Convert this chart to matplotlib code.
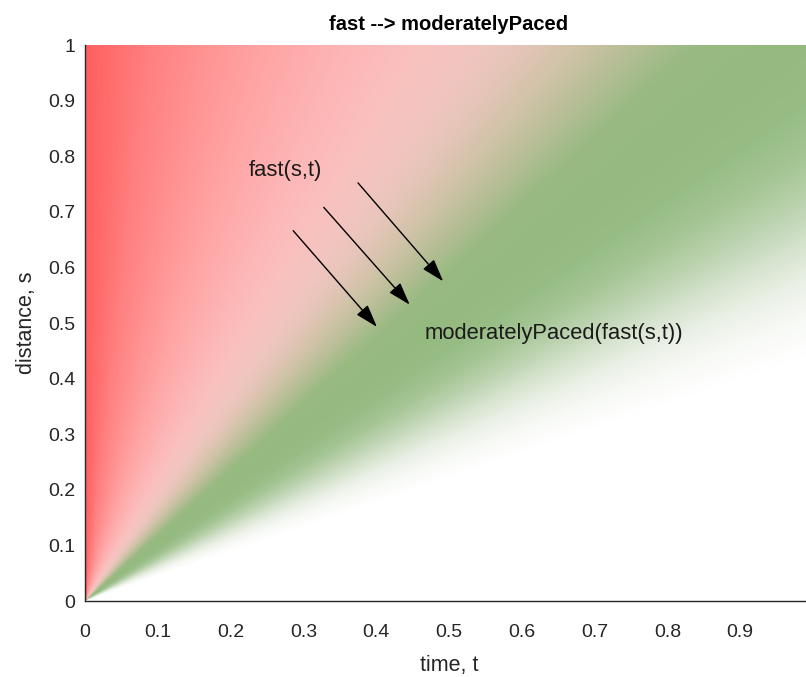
import numpy as np
import matplotlib
matplotlib.use("Agg")
import matplotlib.pyplot as plt
from matplotlib.colors import LinearSegmentedColormap

# Colour, as a function of the ray angle from the origin (degrees)
anchor_angles = [0, 24, 27, 30, 33, 36, 39, 42, 46, 50, 53, 56, 59, 62, 66, 70, 75, 80, 85, 90]
anchor_colors = [
    (255, 255, 255), (255, 255, 255), (248, 250, 246), (235, 241, 231),
    (213, 227, 205), (187, 210, 174), (164, 197, 148), (151, 189, 133),
    (148, 186, 127), (153, 186, 130), (182, 190, 150), (208, 195, 168),
    (229, 197, 184), (242, 197, 192), (250, 192, 190), (253, 182, 182),
    (255, 168, 168), (255, 150, 150), (255, 128, 128), (255, 96, 96),
]

x_ticks = [0, 0.1, 0.2, 0.3, 0.4, 0.5, 0.6, 0.7, 0.8, 0.9, 1]
y_ticks = [0, 0.1, 0.2, 0.3, 0.4, 0.5, 0.6, 0.7, 0.8, 0.9, 1]
x_tick_labels = ["0", "0.1", "0.2", "0.3", "0.4", "0.5", "0.6", "0.7", "0.8", "0.9", "1"]
y_tick_labels = ["0", "0.1", "0.2", "0.3", "0.4", "0.5", "0.6", "0.7", "0.8", "0.9", "1"]

# arrows: (t_tail, s_tail, t_head, s_head)
arrow_tail_t = [0.286, 0.328, 0.375]
arrow_tail_s = [0.666, 0.708, 0.752]
arrow_head_t = [0.401, 0.446, 0.492]
arrow_head_s = [0.493, 0.533, 0.575]

label_fast = ("fast(s,t)", 0.225, 0.775)
label_mod = ("moderatelyPaced(fast(s,t))", 0.467, 0.482)

title = "fast --> moderatelyPaced"
xlabel = "time, t"
ylabel = "distance, s"

plt.rcParams['font.family'] = ['Liberation Sans', 'DejaVu Sans']

W, H, DPI = 806, 677, 100
fig = plt.figure(figsize=(W / DPI, H / DPI), dpi=DPI)
ax = fig.add_axes([85 / W, (H - 601) / H, 728 / W, 556 / H])

stops = [(a / 90.0, tuple(c / 255.0 for c in col)) for a, col in zip(anchor_angles, anchor_colors)]
cmap = LinearSegmentedColormap.from_list("fastmod", stops, N=512)

n = 500
t = np.linspace(0, 1, n)
s = np.linspace(0, 1, n)
T, S = np.meshgrid(t, s)
theta = np.degrees(np.arctan2(S, T))
ax.imshow(theta, extent=[0, 1, 0, 1], origin='lower', aspect='auto',
          cmap=cmap, vmin=0, vmax=90, interpolation='bilinear')

for tt, ts, ht, hs in zip(arrow_tail_t, arrow_tail_s, arrow_head_t, arrow_head_s):
    ax.annotate("", xy=(ht, hs), xytext=(tt, ts),
                arrowprops=dict(arrowstyle="-|>,head_length=1.4,head_width=0.45",
                                color="black", lw=1.0, shrinkA=0, shrinkB=0))

ax.text(label_fast[1], label_fast[2], label_fast[0], fontsize=15.8, color="#1a1a1a",
        ha="left", va="center")
ax.text(label_mod[1], label_mod[2], label_mod[0], fontsize=15.8, color="#1a1a1a",
        ha="left", va="center")

ax.set_xlim(0, 1)
ax.set_ylim(0, 1)
ax.set_xticks(x_ticks)
ax.set_xticklabels(x_tick_labels)
ax.set_yticks(y_ticks)
ax.set_yticklabels(y_tick_labels, va='center_baseline')
ax.tick_params(direction='in', length=0, width=0.8, labelsize=14, colors="#262626")
ax.tick_params(axis='x', pad=16.5)
ax.tick_params(axis='y', pad=7)
for side in ['top', 'right']:
    ax.spines[side].set_visible(False)
for side in ['left', 'bottom']:
    ax.spines[side].set_color("#262626")
    ax.spines[side].set_linewidth(1.0)

ax.set_title(title, fontsize=14.5, fontweight='bold', color="black", pad=11)
ax.set_xlabel(xlabel, fontsize=15.5, color="#262626", labelpad=10)
ax.set_ylabel(ylabel, fontsize=15.5, color="#262626", labelpad=8)

fig.savefig("out.png", dpi=DPI)
